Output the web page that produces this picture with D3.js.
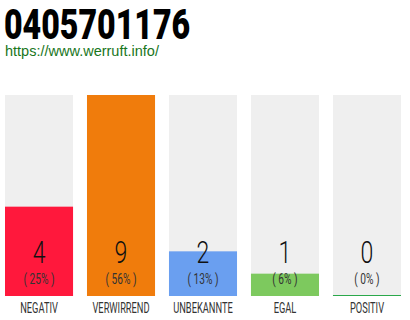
<!DOCTYPE html>
<html>
<head>
<meta charset="utf-8">
<script src="https://cdn.jsdelivr.net/npm/d3@7"></script>
<style>
  body { margin: 0; background: #fff; }
</style>
</head>
<body>
<svg id="chart" width="410" height="320"></svg>
<script>
const categories = ["NEGATIV", "VERWIRREND", "UNBEKANNTE", "EGAL", "POSITIV"];
const counts = [4, 9, 2, 1, 0];
const percents = ["( 25% )", "( 56% )", "( 13% )", "( 6% )", "( 0% )"];
const colors = ["#ff183c", "#f07c0c", "#6a9ff0", "#7dc95e", "#2aa84a"];

const svg = d3.select("#chart")
const margin = {top: 95, right: 9, bottom: 24, left: 5};
const width = 410 - margin.left - margin.right;
const height = 320 - margin.top - margin.bottom;
const font = "Roboto, 'DejaVu Sans', sans-serif";

// title + link
svg.append("g").attr("transform", "translate(4,39) scale(0.765,1)")
  .append("text")
    .attr("font-family", font)
    .attr("font-weight", 900)
    .attr("font-size", 42)
    .attr("fill", "#000")
    .text("0405701176");

svg.append("text")
  .attr("x", 5).attr("y", 55.5)
  .attr("font-family", "'Liberation Sans', Arial, sans-serif")
  .attr("font-size", 14.5)
  .attr("fill", "#19761c")
  .text("https://www.werruft.info/");

const x = d3.scaleBand().domain(categories).range([0, width]).paddingInner(0.17).paddingOuter(0);
const y = d3.scaleLinear().domain([0, 9]).range([height, 0]);

const g = svg.append("g").attr("transform", `translate(${margin.left},${margin.top})`);

const groups = g.selectAll("g.bar")
  .data(categories)
  .enter()
  .append("g")
  .attr("class", "bar")
  .attr("transform", d => `translate(${x(d)},0)`);

groups.append("rect")
  .attr("width", x.bandwidth())
  .attr("height", height)
  .attr("fill", "#efefef");

groups.append("rect")
  .attr("y", (d, i) => counts[i] === 0 ? height - 1 : y(counts[i]))
  .attr("width", x.bandwidth())
  .attr("height", (d, i) => counts[i] === 0 ? 1 : height - y(counts[i]))
  .attr("fill", (d, i) => colors[i]);

function condensed(sel, cy, size, sx, weight, fill, txt) {
  sel.append("g")
    .attr("transform", `translate(${x.bandwidth() / 2},${cy}) scale(${sx},1)`)
    .append("text")
      .attr("text-anchor", "middle")
      .attr("font-family", font)
      .attr("font-weight", weight)
      .attr("font-size", size)
      .attr("fill", fill)
      .text(txt);
}

groups.each(function(d, i) {
  const s = d3.select(this);
  condensed(s, 168, 32, 0.72, 300, "#111", counts[i]);
  condensed(s, 189, 15, 0.68, 400, "#333", percents[i]);
  condensed(s, 218, 15.5, 0.6, 400, "#333", d);
});
</script>
</body>
</html>
